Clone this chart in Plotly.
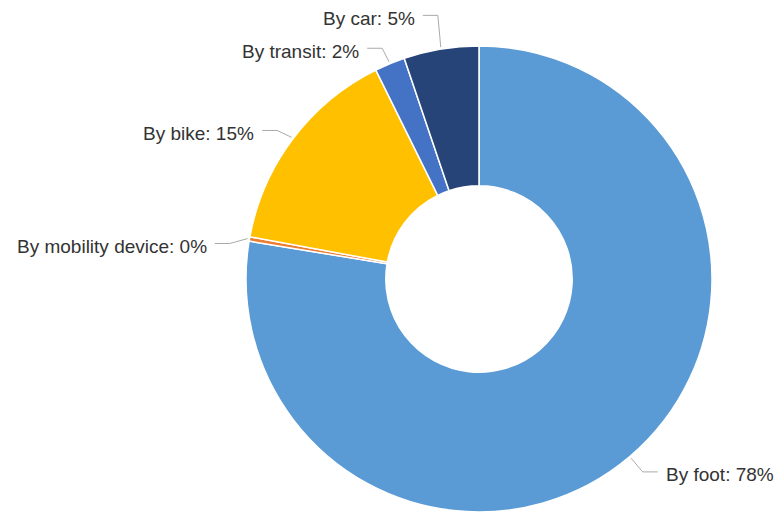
import math
import plotly.graph_objects as go

# ---- data ----
labels = ["By foot", "By mobility device", "By bike", "By transit", "By car"]
values = [77.6, 0.3, 14.8, 2.1, 5.2]
colors = ["#5B9BD5", "#ED7D31", "#FFC000", "#4472C4", "#264478"]

# ---- layout constants (pixels) ----
W, H = 774, 512
PIE_LEFT, PIE_TOP, PIE_SIZE = 246, 46, 466
HOLE = 0.4
START_GAP = 2
ELBOW_GAP = 20
SEG = 15
TEXT_GAP = 8
TEXT_DY = 3
NUDGE = {"By car": -14, "By transit": 3, "By bike": 4, "By mobility device": 8}
FONT = "Liberation Sans, Arial, sans-serif"

cx = PIE_LEFT + PIE_SIZE / 2
cy = PIE_TOP + PIE_SIZE / 2
R = PIE_SIZE / 2


def px(x):
    return x / W


def py(y):
    return 1 - y / H


fig = go.Figure(
    go.Pie(
        labels=labels,
        values=values,
        marker=dict(colors=colors, line=dict(color="white", width=1.5)),
        hole=HOLE,
        sort=False,
        direction="clockwise",
        rotation=0,
        textinfo="none",
        hoverinfo="label+percent",
        showlegend=False,
        domain=dict(x=[px(PIE_LEFT), px(PIE_LEFT + PIE_SIZE)],
                    y=[py(PIE_TOP + PIE_SIZE), py(PIE_TOP)]),
    )
)

total = sum(values)
cum = 0.0
shapes = []
annotations = []
for lab, v in zip(labels, values):
    mid = 2 * math.pi * (cum + v / 2) / total
    cum += v
    s, c = math.sin(mid), math.cos(mid)

    def pt(r):
        return cx + r * s, cy - r * c

    x0, y0 = pt(R + START_GAP)
    ex, ey = pt(R + ELBOW_GAP)
    ey += NUDGE.get(lab, 0)
    right = s >= 0
    x2 = ex + SEG if right else ex - SEG
    tx = x2 + TEXT_GAP if right else x2 - TEXT_GAP
    shapes.append(dict(
        type="path", xref="paper", yref="paper",
        path=f"M {px(x0)} {py(y0)} L {px(ex)} {py(ey)} L {px(x2)} {py(ey)}",
        line=dict(color="#aaaaaa", width=1),
    ))
    pct = round(100 * v / total)
    annotations.append(dict(
        text=f"{lab}: {pct}%", x=px(tx), y=py(ey + TEXT_DY),
        xref="paper", yref="paper", showarrow=False,
        xanchor="left" if right else "right", yanchor="middle",
        borderpad=0, borderwidth=0,
        font=dict(family=FONT, size=19, color="#333333"),
    ))

fig.update_layout(
    width=W, height=H,
    margin=dict(l=0, r=0, t=0, b=0),
    paper_bgcolor="white", plot_bgcolor="white",
    shapes=shapes, annotations=annotations,
    font=dict(family=FONT),
)

fig.write_html("out.html")
